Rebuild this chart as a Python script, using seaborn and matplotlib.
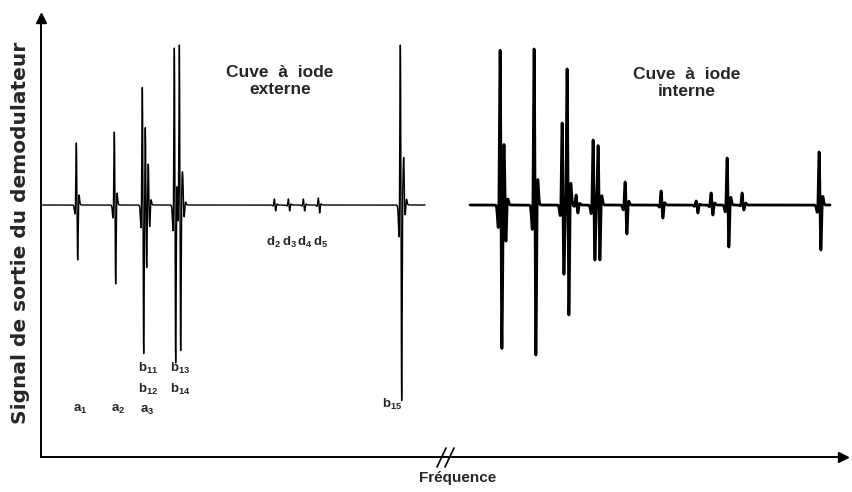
import numpy as np
import pandas as pd
import matplotlib
matplotlib.use("Agg")
import matplotlib.pyplot as plt
import seaborn as sns

# ---------------- data ----------------
# frequency positions (arbitrary units) and lobe amplitudes (arbitrary units)
left_pos = [36, 74, 102, 105, 108, 134, 139, 142.5, 234, 248, 263, 278, 360, 363.5]
left_up = [62, 73, 118, 60, 32, 157, 160, 18, 6, 6, 6, 7, 160, 35]
left_down = [55, 79, 140, 60, 22, 158, 145, 12, 6, 6, 6, 8, 195, 10]
left_span = [0, 384]

right_pos = [460, 464, 494, 522, 527, 536, 553, 558, 585, 621, 656, 671, 687, 702, 779]
right_up = [155, 37, 156, 82, 133, 10, 65, 57, 23, 14, 4, 12, 47, 12, 53]
right_down = [138, 37, 150, 65, 110, 8, 53, 55, 29, 13, 8, 10, 42, 5, 45]
right_span = [429, 789]

peak_labels = [r"a_1", r"a_2", r"a_3", r"b_{11}", r"b_{12}", r"b_{13}", r"b_{14}",
               r"b_{15}", r"d_2", r"d_3", r"d_4", r"d_5"]
label_x = [39, 77, 106, 107, 107, 139, 139, 351, 233, 249, 264, 280]
label_y = [-204, -204, -205, -163, -184, -163, -184, -199, -37, -37, -37, -37]

titles = ["Cuve  à  iode\nexterne", "Cuve  à  iode\ninterne"]
title_x = [239, 646]
title_y = [124, 122]

x_label = "Fréquence"
y_label = "Signal de sortie du demodulateur"
axis_break = 406


# ---------------- build traces (third-derivative line shape) ----------------
def trace(span, pos, up, down, width, name):
    f = np.arange(span[0], span[1] + 0.02, 0.05)
    s = np.zeros_like(f)
    for p, a_up, a_dn in zip(pos, up, down):
        u = (f - p) / width
        shape = -(3 * u - u ** 3) * np.exp(-u ** 2 / 2) / 1.38
        shape = np.where(np.abs(u) > np.sqrt(3), 0.6 * shape, shape)
        s += np.where(shape > 0, shape * a_up, shape * a_dn)
    return pd.DataFrame({"freq": f, "signal": s, "trace": name})


df_left = trace(left_span, left_pos, left_up, left_down, 0.9, "externe")
df_right = trace(right_span, right_pos, right_up, right_down, 1.2, "interne")

# ---------------- figure ----------------
sns.set_style("white")
plt.rcParams["font.family"] = ["Liberation Sans", "DejaVu Sans"]
plt.rcParams["mathtext.fontset"] = "custom"
plt.rcParams["mathtext.bf"] = "Liberation Sans:bold"
plt.rcParams["mathtext.rm"] = "Liberation Sans"

fig = plt.figure(figsize=(8.53, 4.92), dpi=100)
ax = fig.add_axes([41 / 853, 35 / 492, 802 / 853, 439 / 492])

sns.lineplot(data=df_left, x="freq", y="signal", color="black", lw=1.0,
             estimator=None, sort=False, ax=ax)
sns.lineplot(data=df_right, x="freq", y="signal", color="black", lw=2.0,
             estimator=None, sort=False, ax=ax)

ax.set_xlim(0, 802)
ax.set_ylim(-252, 187)
ax.set_xticks([])
ax.set_yticks([])
for side in ["top", "right"]:
    ax.spines[side].set_visible(False)
for side in ["left", "bottom"]:
    ax.spines[side].set_color("black")
    ax.spines[side].set_linewidth(1.4)

# arrow heads
ax.plot(1, 0, ">", color="black", ms=7, transform=ax.transAxes, clip_on=False)
ax.plot(0, 1, "^", color="black", ms=7, transform=ax.transAxes, clip_on=False)

# axis break "//"
for dx in (-6, 2):
    ax.plot([axis_break + dx - 4, axis_break + dx + 5], [-262, -243],
            color="black", lw=1.2, clip_on=False)

# labels
ax.set_xlabel(x_label, fontsize=11, fontweight="bold")
ax.xaxis.set_label_coords(0.52, -0.032)
ax.set_ylabel(y_label, fontsize=14.5, fontweight="bold", family="DejaVu Sans")
ax.yaxis.set_label_coords(-0.014, 0.51)

for t, x, y in zip(titles, title_x, title_y):
    ax.text(x, y, t, ha="center", va="center", fontsize=12.5,
            fontweight="bold", linespacing=1.1)

for lab, x, y in zip(peak_labels, label_x, label_y):
    ax.text(x, y, r"$\mathbf{" + lab + "}$", ha="center", va="center", fontsize=9.5)

fig.savefig("out.png", dpi=100)
